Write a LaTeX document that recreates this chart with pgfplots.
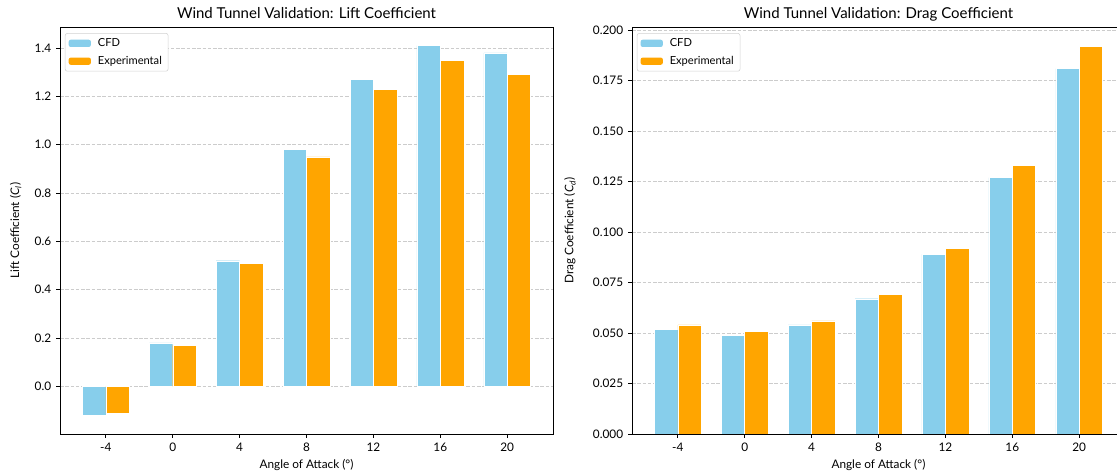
\documentclass[border=0pt]{standalone}
\usepackage{pgfplots}
\pgfplotsset{compat=1.18}
\usepackage{fontspec}
\setmainfont{Lato}
\definecolor{skyblueC}{HTML}{87CEEB}
\definecolor{orangeC}{HTML}{FFA500}
\definecolor{gridC}{HTML}{CCCCCC}

\pgfplotstableread{
x cfdL expL cfdD expD
0 -0.12 -0.11 0.052 0.054
1 0.18 0.17 0.049 0.051
2 0.52 0.51 0.054 0.056
3 0.98 0.95 0.067 0.069
4 1.27 1.23 0.089 0.092
5 1.41 1.35 0.127 0.133
6 1.38 1.29 0.181 0.192
}\datatable

\pgfplotsset{
  mystyle/.style={
    scale only axis, width=355pt, height=293pt,
    anchor=south west,
    axis line style={black, line width=0.6pt},
    xmin=-0.685, xmax=6.685,
    xtick={0,1,2,3,4,5,6}, xticklabels={-4,0,4,8,12,16,20},
    tick align=outside, tick pos=left,
    major tick length=2.8pt,
    tick style={black, line width=0.6pt},
    ymajorgrids,
    grid style={gridC, line width=0.5pt, dash pattern=on 2.6pt off 1.2pt},
    ticklabel style={font=\fontsize{8.5}{10}\selectfont},
    label style={font=\fontsize{8.5}{10}\selectfont},
    every axis title shift=0pt,
    title style={font=\fontsize{10.8}{13}\selectfont, at={(axis description cs:0.5,1)}, anchor=base, yshift=6.5pt},
    /pgf/number format/assume math mode=true,
    yticklabel style={/pgf/number format/fixed, /pgf/number format/fixed zerofill},
    xlabel style={at={(axis description cs:0.5,0)}, anchor=base, yshift=-25pt},
    ybar, bar width=0.35,
    legend cell align=left,
    legend style={font=\fontsize{8}{9.5}\selectfont, at={(0.01,0.985)}, anchor=north west,
      draw=gray!35, rounded corners=1.5pt, inner xsep=2.5pt, inner ysep=1.5pt,
      row sep=1.5pt},
    legend image code/.code={\path[#1, draw=none] (0pt,-2.6pt) rectangle (16pt,2.6pt);},
  },
  cfd/.style={fill=skyblueC, draw=white, line width=0.3pt, bar shift=-0.175},
  exp/.style={fill=orangeC, draw=white, line width=0.3pt, bar shift=0.175},
}

\begin{document}
\begin{tikzpicture}
\useasboundingbox (0,0) rectangle (804.24pt,341.28pt);
\clip (0,0) rectangle (804.24pt,341.28pt);
\begin{axis}[mystyle, at={(43.2pt,28.8pt)},
  ymin=-0.1965, ymax=1.4865,
  ytick={0,0.2,0.4,0.6,0.8,1.0,1.2,1.4},
  yticklabel style={/pgf/number format/precision=1},
  title={Wind Tunnel Validation: Lift Coefficient},
  xlabel={Angle of Attack (°)},
  ylabel={Lift Coefficient (\textit{C\textsubscript{l}})},
  ylabel style={at={([xshift=-32pt]axis description cs:0,0.5)}, anchor=center},
]
\addplot[cfd] table[x=x, y=cfdL] {\datatable};
\addplot[exp] table[x=x, y=expL] {\datatable};
\legend{\hspace{3pt}CFD, \hspace{3pt}Experimental}
\end{axis}
\begin{axis}[mystyle, at={(455pt,28.8pt)},
  ymin=0, ymax=0.2016,
  ytick={0,0.025,0.05,0.075,0.1,0.125,0.15,0.175,0.2},
  yticklabel style={/pgf/number format/precision=3},
  scaled y ticks=false,
  title={Wind Tunnel Validation: Drag Coefficient},
  xlabel={Angle of Attack (°)},
  ylabel={Drag Coefficient (\textit{C\textsubscript{d}})},
  ylabel style={at={([xshift=-44.6pt]axis description cs:0,0.5)}, anchor=center},
]
\addplot[cfd] table[x=x, y=cfdD] {\datatable};
\addplot[exp] table[x=x, y=expD] {\datatable};
\legend{\hspace{3pt}CFD, \hspace{3pt}Experimental}
\end{axis}
\end{tikzpicture}
\end{document}
